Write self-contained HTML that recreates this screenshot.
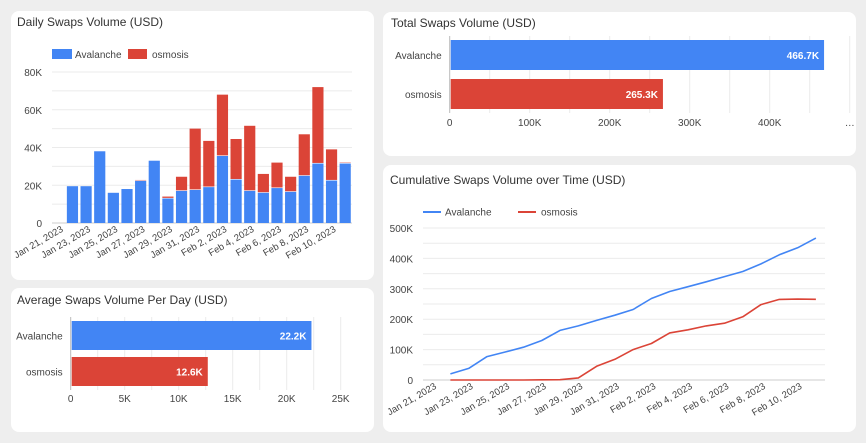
<!DOCTYPE html>
<html><head><meta charset="utf-8"><style>
body{margin:0;width:866px;height:443px;background:#eeeeee;font-family:"Liberation Sans",sans-serif;overflow:hidden;position:relative}
.card{position:absolute;background:#fff;border-radius:8px}
svg{position:absolute;left:0;top:0}
text{font-family:"Liberation Sans",sans-serif}
</style></head><body>
<div class="card" style="left:11px;top:11px;width:363px;height:269px"></div>
<div class="card" style="left:383px;top:12px;width:473px;height:144px"></div>
<div class="card" style="left:11px;top:288px;width:363px;height:144px"></div>
<div class="card" style="left:383px;top:165px;width:473px;height:267px"></div>
<svg id="s" width="866" height="443"></svg>
<script>
const dates=["Jan 21, 2023","Jan 22, 2023","Jan 23, 2023","Jan 24, 2023","Jan 25, 2023","Jan 26, 2023","Jan 27, 2023","Jan 28, 2023","Jan 29, 2023","Jan 30, 2023","Jan 31, 2023","Feb 1, 2023","Feb 2, 2023","Feb 3, 2023","Feb 4, 2023","Feb 5, 2023","Feb 6, 2023","Feb 7, 2023","Feb 8, 2023","Feb 9, 2023","Feb 10, 2023","Feb 11, 2023"];
const dailyAval=[null,19.5,19.5,38,16,18,22.3,33,13,17,17.5,19,35.5,23,17,16,18.5,16.5,25,31.5,22.5,31.5];
const dailyOsmo=[null,0,0,0,0,0,0.5,0,1,7.5,32.5,24.5,32.5,21.5,34.5,10,13.5,8,22,40.5,16.5,0.5];
const cumAval=[null,20,38,77,92,108,130,163,178,196,213,232,268,291,307,323,340,357,382,412,435,466.7];
const cumOsmo=[null,0,0,0,0,0,0.5,1,7,45,68,100,120,155,165,178,187,208,248,265,266,265.3];
const totalCats=["Avalanche","osmosis"];
const totalVals=[466.7,265.3];
const totalLabels=["466.7K","265.3K"];
const avgVals=[22.2,12.6];
const avgLabels=["22.2K","12.6K"];
const BLUE="#4285f4",RED="#db4437",GRID="#ebebeb",TXT="#444";
const s=document.getElementById('s');
function el(t,a,txt){const e=document.createElementNS('http://www.w3.org/2000/svg',t);for(const k in a)e.setAttribute(k,a[k]);if(txt!=null)e.textContent=txt;s.appendChild(e);return e;}
function title(x,y,t,n){const e=el('text',{x:x,y:y,'font-size':12,fill:'#333'},t);}
title(17,26,"Daily Swaps Volume (USD)","daily-chart-title");
title(391,27,"Total Swaps Volume (USD)","total-chart-title");
title(17,304,"Average Swaps Volume Per Day (USD)","average-chart-title");
title(390,184,"Cumulative Swaps Volume over Time (USD)","cumulative-chart-title");
const dx0=52,dx1=352,dyZ=223,dyT=72,dMax=80;
const dSlot=(dx1-dx0)/dates.length;
const dX=i=>dx0+dSlot*(i+0.5);
const dY=v=>dyZ-(v/dMax)*(dyZ-dyT);
for(let v=0;v<=80;v+=10){const y=dY(v);el('line',{x1:dx0,x2:dx1,y1:y,y2:y,stroke:v==0?'#ccc':GRID});
 if(v%20==0){const t=el('text',{x:42,y:y+4,'font-size':10,fill:TXT,'text-anchor':'end'},v==0?'0':v+'K');}}
for(let i=0;i<dates.length;i++){if(dailyAval[i]==null)continue;const w=dSlot*0.82,x=dX(i)-w/2;
 const b=el('rect',{x:x,y:dY(dailyAval[i]),width:w,height:dyZ-dY(dailyAval[i]),fill:BLUE});
 
 if(dailyOsmo[i]>0){const r=el('rect',{x:x,y:dY(dailyAval[i]+dailyOsmo[i]),width:w,height:dY(dailyAval[i])-dY(dailyAval[i]+dailyOsmo[i])-0.6,fill:RED});
 }}
for(let i=0;i<dates.length;i+=2){const x=dX(i)+5,y=231;const t=el('text',{x:x,y:y,'font-size':9.5,fill:TXT,'text-anchor':'end',transform:`rotate(-30 ${x} ${y})`},dates[i]);
 }
el('rect',{x:52,y:49,width:20,height:10,fill:BLUE});el('text',{x:75,y:58,'font-size':10,fill:TXT},'Avalanche');
el('rect',{x:128,y:49,width:19,height:10,fill:RED});el('text',{x:152,y:58,'font-size':10,fill:TXT},'osmosis');
function hbar(x0,unit,max,step,gridStep,yBars,h,vals,labels,cats,labY,labs,prefix){
 for(let v=0;v<=max+0.001;v+=gridStep){const x=x0+v*unit;el('line',{x1:x,x2:x,y1:yBars[0]-4,y2:yBars[1]+h+4,stroke:v==0?'#bbb':GRID});}
 labs.forEach(l=>{const t=el('text',{x:x0+l[0]*unit,y:labY,'font-size':10,fill:TXT,'text-anchor':'middle'},l[1]);});
 vals.forEach((v,i)=>{const r=el('rect',{x:x0+1,y:yBars[i],width:v*unit,height:h,fill:i?RED:BLUE});
  el('text',{x:x0+v*unit-4,y:yBars[i]+h/2+4,'font-size':10,'font-weight':'bold',fill:'#fff','text-anchor':'end'},labels[i]);
  el('text',{x:x0-8,y:yBars[i]+h/2+4,'font-size':10,fill:TXT,'text-anchor':'end'},cats[i]);});
}
hbar(449.7,0.8,500,100,50,[40,79],30,totalVals,totalLabels,totalCats,126,[[0,'0'],[100,'100K'],[200,'200K'],[300,'300K'],[400,'400K'],[500,'…']],'total');
hbar(70.7,10.8,25,5,2.5,[321,357],29,avgVals,avgLabels,totalCats,402,[[0,'0'],[5,'5K'],[10,'10K'],[15,'15K'],[20,'20K'],[25,'25K']],'average');
const cx0=423,cx1=825,cyZ=380,cyT=228,cMax=500;
const cSlot=(cx1-cx0)/dates.length;
const cX=i=>cx0+cSlot*(i+0.5);
const cY=v=>cyZ-(v/cMax)*(cyZ-cyT);
for(let v=0;v<=500;v+=50){const y=cY(v);el('line',{x1:cx0,x2:cx1,y1:y,y2:y,stroke:v==0?'#ccc':GRID});
 if(v%100==0){const t=el('text',{x:413,y:y+4,'font-size':10,fill:TXT,'text-anchor':'end'},v==0?'0':v+'K');}}
function line(arr,c,n){let d='';arr.forEach((v,i)=>{if(v==null)return;d+=(d?'L':'M')+cX(i).toFixed(1)+','+cY(v).toFixed(1);});
 const p=el('path',{d:d,fill:'none',stroke:c,'stroke-width':1.6,'stroke-linejoin':'round'});}
line(cumOsmo,RED,'cumulative-line-osmosis');line(cumAval,BLUE,'cumulative-line-avalanche');
for(let i=0;i<dates.length;i+=2){const x=cX(i)+5,y=388;const t=el('text',{x:x,y:y,'font-size':9.5,fill:TXT,'text-anchor':'end',transform:`rotate(-30 ${x} ${y})`},dates[i]);
 }
el('line',{x1:423,x2:441,y1:212,y2:212,stroke:BLUE,'stroke-width':2});el('text',{x:445,y:215.5,'font-size':10,fill:TXT},'Avalanche');
el('line',{x1:518,x2:536,y1:212,y2:212,stroke:RED,'stroke-width':2});el('text',{x:541,y:215.5,'font-size':10,fill:TXT},'osmosis');
</script>
</body></html>
